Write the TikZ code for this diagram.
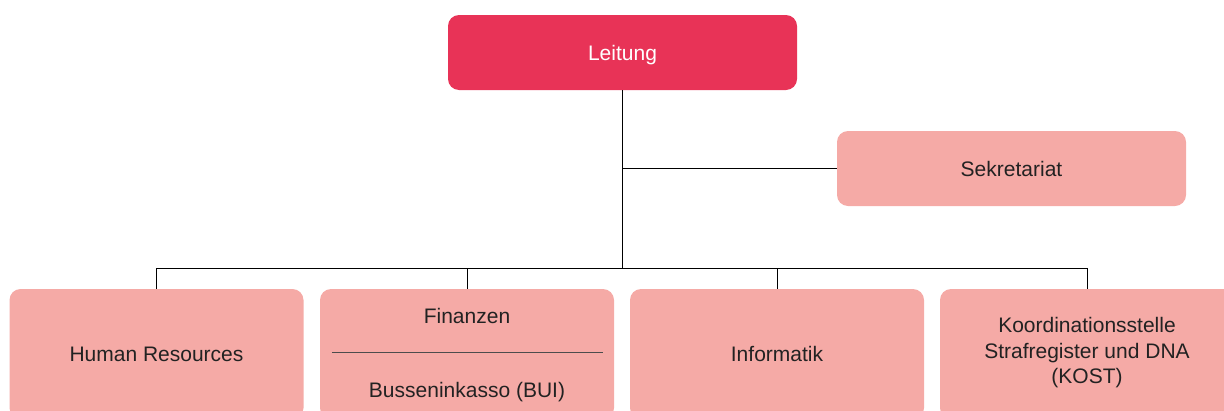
\documentclass[tikz,border=0pt]{standalone}
\usepackage{fontspec}
\setmainfont{Liberation Sans}
\usetikzlibrary{calc}
\definecolor{leitred}{HTML}{E83357}
\definecolor{unitpink}{HTML}{F5AAA6}
\definecolor{txtdark}{HTML}{222222}
\begin{document}
\begin{tikzpicture}[x=1pt,y=1pt,
  box/.style={rounded corners=11pt, inner sep=0pt, font=\fontsize{21}{25.5}\selectfont, text=txtdark, align=center},
  topbox/.style={box, fill=leitred, text=white, minimum width=349pt, minimum height=75pt, text depth=0pt},
  sidebox/.style={box, fill=unitpink, minimum width=349pt, minimum height=75pt},
  unitbox/.style={box, fill=unitpink, minimum width=294pt, minimum height=130pt},
  link/.style={draw=black, line width=1pt},
  lbl/.style={font=\fontsize{21}{25.5}\selectfont, text=txtdark, inner sep=0pt}]
\useasboundingbox (0,0) rectangle (1224,-410);
\clip (0,0) rectangle (1224,-410);
\node[topbox] (leit) at (622.5,-52.5) {Leitung};
\node[sidebox] (sekr) at (1011.5,-168.5) {Sekretariat};
\node[unitbox] (hr) at (156.5,-354) {Human Resources};
\node[unitbox] (fin) at (467,-354) {};
\node[unitbox] (inf) at (777,-354) {Informatik};
\node[unitbox] (kost) at (1087,-354) {};
\node[lbl, align=center] (kostT) at ($(kost.center)+(0,1)$) {Koordinationsstelle\\Strafregister und DNA\\(KOST)};
\node[lbl] (finA) at ($(fin.center)+(0,38)$) {Finanzen};
\node[lbl] (finB) at ($(fin.center)+(0,-38)$) {Busseninkasso (BUI)};
\coordinate (fl) at ($(fin.west)+(12,2)$);
\coordinate (fr) at ($(fin.east)+(-11,2)$);
\draw[draw=black!70, line width=0.9pt] (fl) -- (fr);
\coordinate (bus) at (0,-268);
\draw[link] (leit.south) -- (leit.south |- bus);
\draw[link] (leit.south |- sekr.west) -- (sekr.west);
\draw[link] (hr.north |- bus) -- (kost.north |- bus);
\draw[link] (hr.north |- bus) -- (hr.north);
\draw[link] (fin.north |- bus) -- (fin.north);
\draw[link] (inf.north |- bus) -- (inf.north);
\draw[link] (kost.north |- bus) -- (kost.north);
\end{tikzpicture}
\end{document}
